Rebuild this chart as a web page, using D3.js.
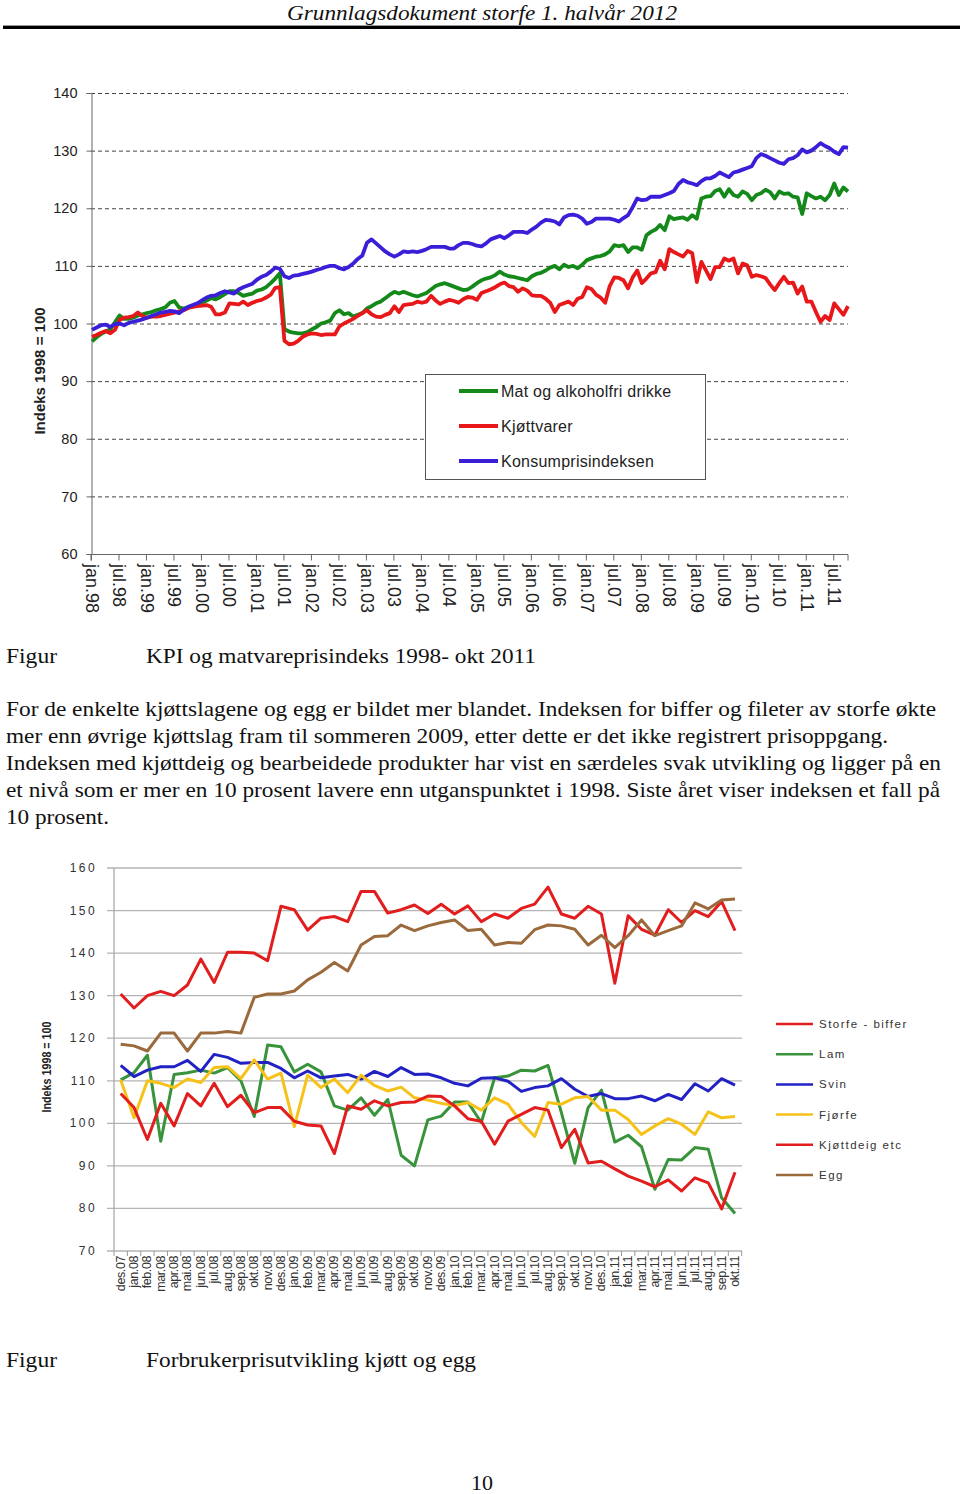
<!DOCTYPE html>
<html><head><meta charset="utf-8">
<script src="https://cdn.jsdelivr.net/npm/d3@7"></script>
<style>body{margin:0;background:#fff}svg{display:block}</style>
</head><body>
<svg id="page" width="960" height="1494"></svg>
<script>
// ---------- Top chart data (monthly, jan.98 .. okt.11) ----------
const topTickLabels = ["jan.98","jul.98","jan.99","jul.99","jan.00","jul.00","jan.01","jul.01","jan.02","jul.02","jan.03","jul.03","jan.04","jul.04","jan.05","jul.05","jan.06","jul.06","jan.07","jul.07","jan.08","jul.08","jan.09","jul.09","jan.10","jul.10","jan.11","jul.11"];
const topYTicks = [60,70,80,90,100,110,120,130,140];
const topSeriesNames = ["Mat og alkoholfri drikke","Kjøttvarer","Konsumprisindeksen"];
const matOgDrikke = [
96.9,97.6,98.2,98.6,99.0,100.2,101.4,100.8,100.8,101.0,101.4,101.6,
101.8,102.0,102.3,102.5,102.8,103.6,103.9,102.8,102.6,102.8,103.0,103.2,
103.6,104.0,104.4,104.2,104.6,105.1,105.6,105.6,105.3,104.8,105.0,105.2,
105.7,105.9,106.3,107.0,107.8,108.7,99.0,98.6,98.4,98.3,98.3,98.5,
99.0,99.4,100.0,100.2,100.5,101.8,102.3,101.6,101.8,101.2,101.5,101.8,
102.6,103.0,103.5,103.8,104.4,105.0,105.5,105.2,105.5,105.2,104.9,104.7,
105.0,105.3,105.9,106.5,106.8,107.0,106.7,106.4,106.1,105.8,105.9,106.4,
107.0,107.5,107.8,108.0,108.4,109.0,108.5,108.2,108.1,107.9,107.7,107.5,
108.2,108.6,108.8,109.2,109.7,110.0,109.4,110.2,109.8,110.0,109.6,110.2,
111.0,111.3,111.6,111.7,112.0,112.5,113.6,113.4,113.6,112.4,113.2,113.2,
112.8,115.3,115.9,116.3,117.1,116.2,118.6,118.1,118.3,118.4,118.0,118.8,
118.2,121.7,122.0,122.1,123.0,123.3,122.0,123.3,122.3,122.0,122.9,122.5,
121.4,122.3,122.6,123.2,122.8,121.7,122.9,122.5,122.6,122.0,121.9,119.0,
122.6,122.1,121.7,122.0,121.4,122.3,124.3,122.3,123.6,122.9];
const kjottvarer = [
97.7,98.0,98.4,98.7,98.3,98.9,100.6,101.0,101.1,101.3,101.9,101.3,
101.0,101.2,101.2,101.3,101.5,101.7,101.9,102.1,102.3,102.7,102.9,103.0,
103.1,103.2,102.9,101.6,101.6,101.9,103.5,103.4,103.3,103.8,103.2,103.6,
103.9,104.1,104.5,105.0,106.2,106.3,97.0,96.4,96.5,97.0,97.7,98.1,
98.3,98.2,98.0,98.1,98.1,98.1,99.5,100.0,100.4,100.8,101.3,101.8,
102.3,101.6,101.2,101.1,101.5,101.8,103.0,102.0,103.2,103.3,103.4,103.8,
103.6,103.8,104.8,104.0,103.4,103.8,104.1,103.9,103.6,104.2,104.6,104.5,
104.1,105.3,105.6,105.9,106.3,106.8,107.1,106.5,106.3,105.5,106.1,105.7,
104.9,104.8,104.8,104.3,103.6,102.0,103.2,103.5,103.8,103.2,104.3,104.6,
106.3,106.0,105.0,104.5,103.6,106.5,108.0,107.9,107.5,106.1,108.0,109.2,
107.0,107.8,108.7,108.9,110.9,109.4,112.9,112.4,112.0,111.6,112.6,112.2,
107.2,110.7,109.2,107.7,109.8,109.8,111.3,110.9,111.3,108.7,110.4,110.1,
108.1,108.4,108.2,107.9,106.8,105.8,107.0,108.1,107.0,107.1,105.2,106.4,
103.8,103.8,102.0,100.3,101.3,100.6,103.5,102.5,101.5,103.0];
const konsumprisindeksen = [
98.9,99.3,99.7,99.8,99.4,99.9,100.0,99.7,100.1,100.3,100.5,100.7,
101.0,101.3,101.6,101.9,102.0,102.2,102.1,101.8,102.4,102.9,103.2,103.5,
104.0,104.5,104.8,104.9,105.3,105.6,105.4,105.2,105.9,106.3,106.6,106.9,
107.6,108.1,108.4,109.0,109.7,109.5,108.2,107.9,108.3,108.4,108.6,108.8,
109.0,109.3,109.5,109.8,110.0,110.0,109.6,109.4,109.8,110.4,111.2,111.8,
114.0,114.6,113.9,113.2,112.5,112.0,111.6,112.0,112.5,112.4,112.5,112.4,
112.6,112.9,113.3,113.3,113.3,113.3,113.0,113.0,113.6,114.0,114.0,113.8,
113.5,113.4,113.9,114.6,114.9,115.2,114.8,115.3,115.9,115.9,115.9,115.7,
116.3,116.8,117.5,118.0,117.9,117.7,117.2,118.4,118.8,118.9,118.7,118.2,
117.3,117.6,118.2,118.2,118.2,118.2,118.0,117.7,118.3,118.8,120.2,121.7,
121.4,121.5,122.0,122.0,122.0,122.3,122.6,123.0,124.2,124.9,124.5,124.3,
124.0,124.7,125.2,125.2,125.6,126.2,125.8,125.4,126.2,126.4,126.7,127.0,
127.3,128.7,129.4,129.1,128.7,128.3,127.9,127.7,128.5,128.7,129.2,130.2,
129.7,130.0,130.6,131.3,130.8,130.4,129.8,129.4,130.6,130.5];

// ---------- Bottom chart data (des.07 .. okt.11) ----------
const bottomMonths = ["des.07","jan.08","feb.08","mar.08","apr.08","mai.08","jun.08","jul.08","aug.08","sep.08","okt.08","nov.08","des.08",
"jan.09","feb.09","mar.09","apr.09","mai.09","jun.09","jul.09","aug.09","sep.09","okt.09","nov.09","des.09",
"jan.10","feb.10","mar.10","apr.10","mai.10","jun.10","jul.10","aug.10","sep.10","okt.10","nov.10","des.10",
"jan.11","feb.11","mar.11","apr.11","mai.11","jun.11","jul.11","aug.11","sep.11","okt.11"];
const bottomYTicks = [70,80,90,100,110,120,130,140,150,160];
const bottomSeriesNames = ["Storfe - biffer","Lam","Svin","Fjørfe","Kjøttdeig etc","Egg"];
const storfeBiffer = [130.4,127.1,130.0,131.0,130.0,132.5,138.6,133.1,140.2,140.2,140.0,138.2,151.0,150.2,145.4,148.2,148.6,147.4,154.5,154.5,149.4,150.2,151.3,149.3,151.5,149.2,151.1,147.4,149.2,148.2,150.5,151.5,155.5,149.2,148.2,151.0,149.2,132.9,148.8,145.6,144.2,150.2,147.2,150.0,148.6,152.1,145.3];
const lam = [110.2,111.9,116.0,95.8,111.5,111.9,112.5,111.8,113.1,110.0,101.6,118.4,118.0,112.1,113.9,112.1,104.1,103.1,106.0,101.9,105.6,92.5,90.0,100.8,101.7,105.0,105.0,100.2,110.7,111.1,112.5,112.3,113.6,102.5,90.6,103.7,107.8,95.6,97.2,94.5,84.5,91.5,91.4,94.3,93.9,82.5,78.8];
const svin = [113.6,111.0,112.5,113.3,113.3,114.8,112.2,116.2,115.5,114.1,114.3,114.3,112.9,110.7,112.3,110.7,111.1,111.5,110.4,112.2,111.0,113.1,111.5,111.6,110.7,109.4,108.8,110.6,110.7,109.9,107.5,108.4,108.8,110.5,108.0,106.3,107.0,105.8,105.8,106.4,105.3,106.8,105.6,109.3,107.6,110.5,109.0];
const fjorfe = [110.2,101.3,110.0,109.4,108.4,110.4,109.6,113.1,113.3,110.5,114.9,110.4,111.8,99.2,111.3,108.4,110.4,107.2,111.3,108.9,107.6,108.5,106.0,105.5,104.7,104.1,104.9,103.1,106.0,104.5,100.2,96.9,104.9,104.5,106.0,106.3,103.1,103.1,100.9,97.4,99.4,101.1,99.8,97.4,102.7,101.3,101.6];
const kjottdeig = [107.0,103.7,96.2,104.7,99.4,107.0,104.1,109.4,103.9,106.6,102.5,103.7,103.7,100.5,99.6,99.4,92.9,104.1,103.3,105.3,104.1,104.9,105.0,106.4,106.3,104.1,101.1,100.5,95.1,100.5,102.1,103.7,103.1,94.3,98.6,90.7,91.1,89.3,87.6,86.4,85.1,86.7,84.1,87.2,86.0,79.9,88.5];
const egg = [118.6,118.2,117.0,121.2,121.2,117.0,121.2,121.2,121.6,121.2,129.6,130.4,130.4,131.1,133.7,135.5,137.8,135.8,141.9,143.9,144.1,146.6,145.3,146.4,147.2,147.8,145.3,145.6,141.9,142.5,142.3,145.5,146.6,146.4,145.6,141.9,144.2,141.3,144.1,147.8,144.1,145.3,146.4,151.8,150.4,152.5,152.7];

// ---------- Text ----------
const headerText = "Grunnlagsdokument storfe 1. halvår 2012";
const caption1 = "KPI og matvareprisindeks 1998- okt 2011";
const caption2 = "Forbrukerprisutvikling kjøtt og egg";
const paragraph = [
 {t:"For de enkelte kjøttslagene og egg er bildet mer blandet. Indeksen for biffer og fileter av storfe økte", w:930},
 {t:"mer enn øvrige kjøttslag fram til sommeren 2009, etter dette er det ikke registrert prisoppgang.", w:882},
 {t:"Indeksen med kjøttdeig og bearbeidede produkter har vist en særdeles svak utvikling og ligger på en", w:935},
 {t:"et nivå som er mer en 10 prosent lavere enn utganspunktet i 1998. Siste året viser indeksen et fall på", w:934},
 {t:"10 prosent.", w:103}
];

const svg = d3.select("#page");
const serif = "'Liberation Serif','Times New Roman',serif";
const sans = "'Liberation Sans',Arial,sans-serif";
const bodySize = 22;

// Header
svg.append("text").attr("x",482).attr("y",20).attr("text-anchor","middle")
  .attr("font-family",serif).attr("font-style","italic").attr("font-size",22)
  .attr("textLength",390).attr("lengthAdjust","spacingAndGlyphs").attr("fill","#111").text(headerText);
svg.append("rect").attr("x",3).attr("y",25).attr("width",957).attr("height",1).attr("fill","#999");
svg.append("rect").attr("x",3).attr("y",26).attr("width",957).attr("height",3).attr("fill","#000");

// ---------- Top chart ----------
{
  const x = d3.scaleLinear().domain([0,165]).range([92,848]);
  const y = d3.scaleLinear().domain([60,140]).range([554,93]);
  const g = svg.append("g");
  g.selectAll("line.grid").data(topYTicks.filter(v=>v>60)).join("line")
    .attr("x1",91).attr("x2",848).attr("y1",d=>y(d)+0.5).attr("y2",d=>y(d)+0.5)
    .attr("stroke","#444").attr("stroke-width",1).attr("stroke-dasharray","4,3");
  const yAxis = d3.axisLeft(y).tickValues(topYTicks).tickSize(5).tickPadding(9);
  const ya = g.append("g").attr("transform","translate(91.5,0)").call(yAxis);
  ya.select(".domain").attr("stroke","#666");
  ya.selectAll(".tick line").attr("stroke","#666");
  ya.selectAll("text").attr("font-family",sans).attr("font-size",14.5).attr("fill","#222");
  const tickIdx = topTickLabels.map((d,i)=>i*6);
  const xAxis = d3.axisBottom(x).tickValues(tickIdx).tickSize(6).tickFormat("");
  const xa = g.append("g").attr("transform","translate(0,554.5)").call(xAxis);
  xa.select(".domain").attr("stroke","#666").attr("d","M91,6V0H848V6");
  xa.selectAll(".tick line").attr("stroke","#666").attr("transform","translate(-1,0)");
  g.selectAll("text.xl").data(topTickLabels).join("text")
    .attr("transform",(d,i)=>`translate(${x(i*6)-6},564) rotate(90)`)
    .attr("font-family",sans).attr("font-size",18).attr("fill","#222").text(d=>d);
  g.append("text").attr("transform","translate(45,371) rotate(-90)").attr("text-anchor","middle")
    .attr("font-family",sans).attr("font-weight","bold").attr("font-size",15).attr("fill","#222")
    .text("Indeks 1998 = 100");
  const colorsTop = ["#14891a","#e8181a","#3a1fd9"];
  const seriesTop = [matOgDrikke,kjottvarer,konsumprisindeksen];
  const line = d3.line().x((d,i)=>x(i)).y(d=>y(d));
  seriesTop.forEach((s,k)=>{
    g.append("path").datum(s).attr("d",line).attr("fill","none")
      .attr("stroke",colorsTop[k]).attr("stroke-width",3.8).attr("stroke-linejoin","round");
  });
  g.append("rect").attr("x",425.5).attr("y",374.5).attr("width",280).attr("height",105)
    .attr("fill","#fff").attr("stroke","#555");
  topSeriesNames.forEach((n,k)=>{
    const yy = 391 + k*35;
    g.append("line").attr("x1",459).attr("x2",498).attr("y1",yy).attr("y2",yy)
      .attr("stroke",colorsTop[k]).attr("stroke-width",3.8);
    g.append("text").attr("x",501).attr("y",yy+5.5).attr("font-family",sans).attr("font-size",16)
      .attr("letter-spacing",0.25).attr("fill","#222").text(n);
  });
}

// Captions & paragraph
function caption(yb, txt, w){
  svg.append("text").attr("x",6).attr("y",yb).attr("font-family",serif).attr("font-size",bodySize)
    .attr("textLength",51).attr("lengthAdjust","spacingAndGlyphs").attr("fill","#111").text("Figur");
  svg.append("text").attr("x",146).attr("y",yb).attr("font-family",serif).attr("font-size",bodySize)
    .attr("textLength",w).attr("lengthAdjust","spacingAndGlyphs").attr("fill","#111").text(txt);
}
caption(663, caption1, 390);
paragraph.forEach((p,i)=>{
  svg.append("text").attr("x",6).attr("y",716+i*27).attr("font-family",serif)
    .attr("font-size",bodySize).attr("fill","#111")
    .attr("textLength",p.w).attr("lengthAdjust","spacingAndGlyphs").text(p.t);
});
caption(1367, caption2, 330);
svg.append("text").attr("x",482).attr("y",1490).attr("text-anchor","middle").attr("font-family",serif)
  .attr("font-size",bodySize).attr("fill","#111").text("10");

// ---------- Bottom chart ----------
{
  const x = d3.scaleLinear().domain([0,bottomMonths.length-1]).range([120.7,735]);
  const y = d3.scaleLinear().domain([70,160]).range([1251,868]);
  const g = svg.append("g");
  g.selectAll("line.grid").data(bottomYTicks).join("line")
    .attr("x1",107).attr("x2",742).attr("y1",d=>y(d)).attr("y2",d=>y(d))
    .attr("stroke","#b4b4b4").attr("stroke-width",1.3);
  g.append("line").attr("x1",114).attr("x2",114).attr("y1",868).attr("y2",1251).attr("stroke","#aaa").attr("stroke-width",1.3);
  g.selectAll("text.yl").data(bottomYTicks).join("text")
    .attr("x",97).attr("y",d=>y(d)+4).attr("text-anchor","end")
    .attr("font-family",sans).attr("font-size",12).attr("letter-spacing",2.4).attr("fill","#333").text(d=>d);
  const step = x(1)-x(0);
  g.selectAll("line.xt").data(d3.range(bottomMonths.length+1)).join("line")
    .attr("x1",d=>x(d)-step/2).attr("x2",d=>x(d)-step/2).attr("y1",1251).attr("y2",1256)
    .attr("stroke","#999");
  g.selectAll("text.xl").data(bottomMonths).join("text")
    .attr("transform",(d,i)=>`translate(${x(i)+4},1256) rotate(-90)`).attr("text-anchor","end")
    .attr("font-family",sans).attr("font-size",12.5).attr("letter-spacing",-0.4).attr("fill","#333").text(d=>d);
  g.append("text").attr("transform","translate(51,1067) rotate(-90)").attr("text-anchor","middle")
    .attr("font-family",sans).attr("font-weight","bold").attr("font-size",13)
    .attr("textLength",91).attr("lengthAdjust","spacingAndGlyphs").attr("fill","#222").text("Indeks 1998 = 100");
  const colorsBot = ["#e21d1d","#38933a","#2222c4","#f6c21a","#e21d1d","#9b6a3c"];
  const seriesBot = [storfeBiffer,lam,svin,fjorfe,kjottdeig,egg];
  const line = d3.line().x((d,i)=>x(i)).y(d=>y(d));
  seriesBot.forEach((s,k)=>{
    g.append("path").datum(s).attr("d",line).attr("fill","none")
      .attr("stroke",colorsBot[k]).attr("stroke-width",3).attr("stroke-linejoin","round");
  });
  bottomSeriesNames.forEach((n,k)=>{
    const yy = 1024 + k*30.2;
    g.append("line").attr("x1",776).attr("x2",813).attr("y1",yy).attr("y2",yy)
      .attr("stroke",colorsBot[k]).attr("stroke-width",2.5);
    g.append("text").attr("x",819).attr("y",yy+4).attr("font-family",sans).attr("font-size",11.5)
      .attr("letter-spacing",1.5).attr("fill","#333").text(n);
  });
}
</script>
</body></html>
